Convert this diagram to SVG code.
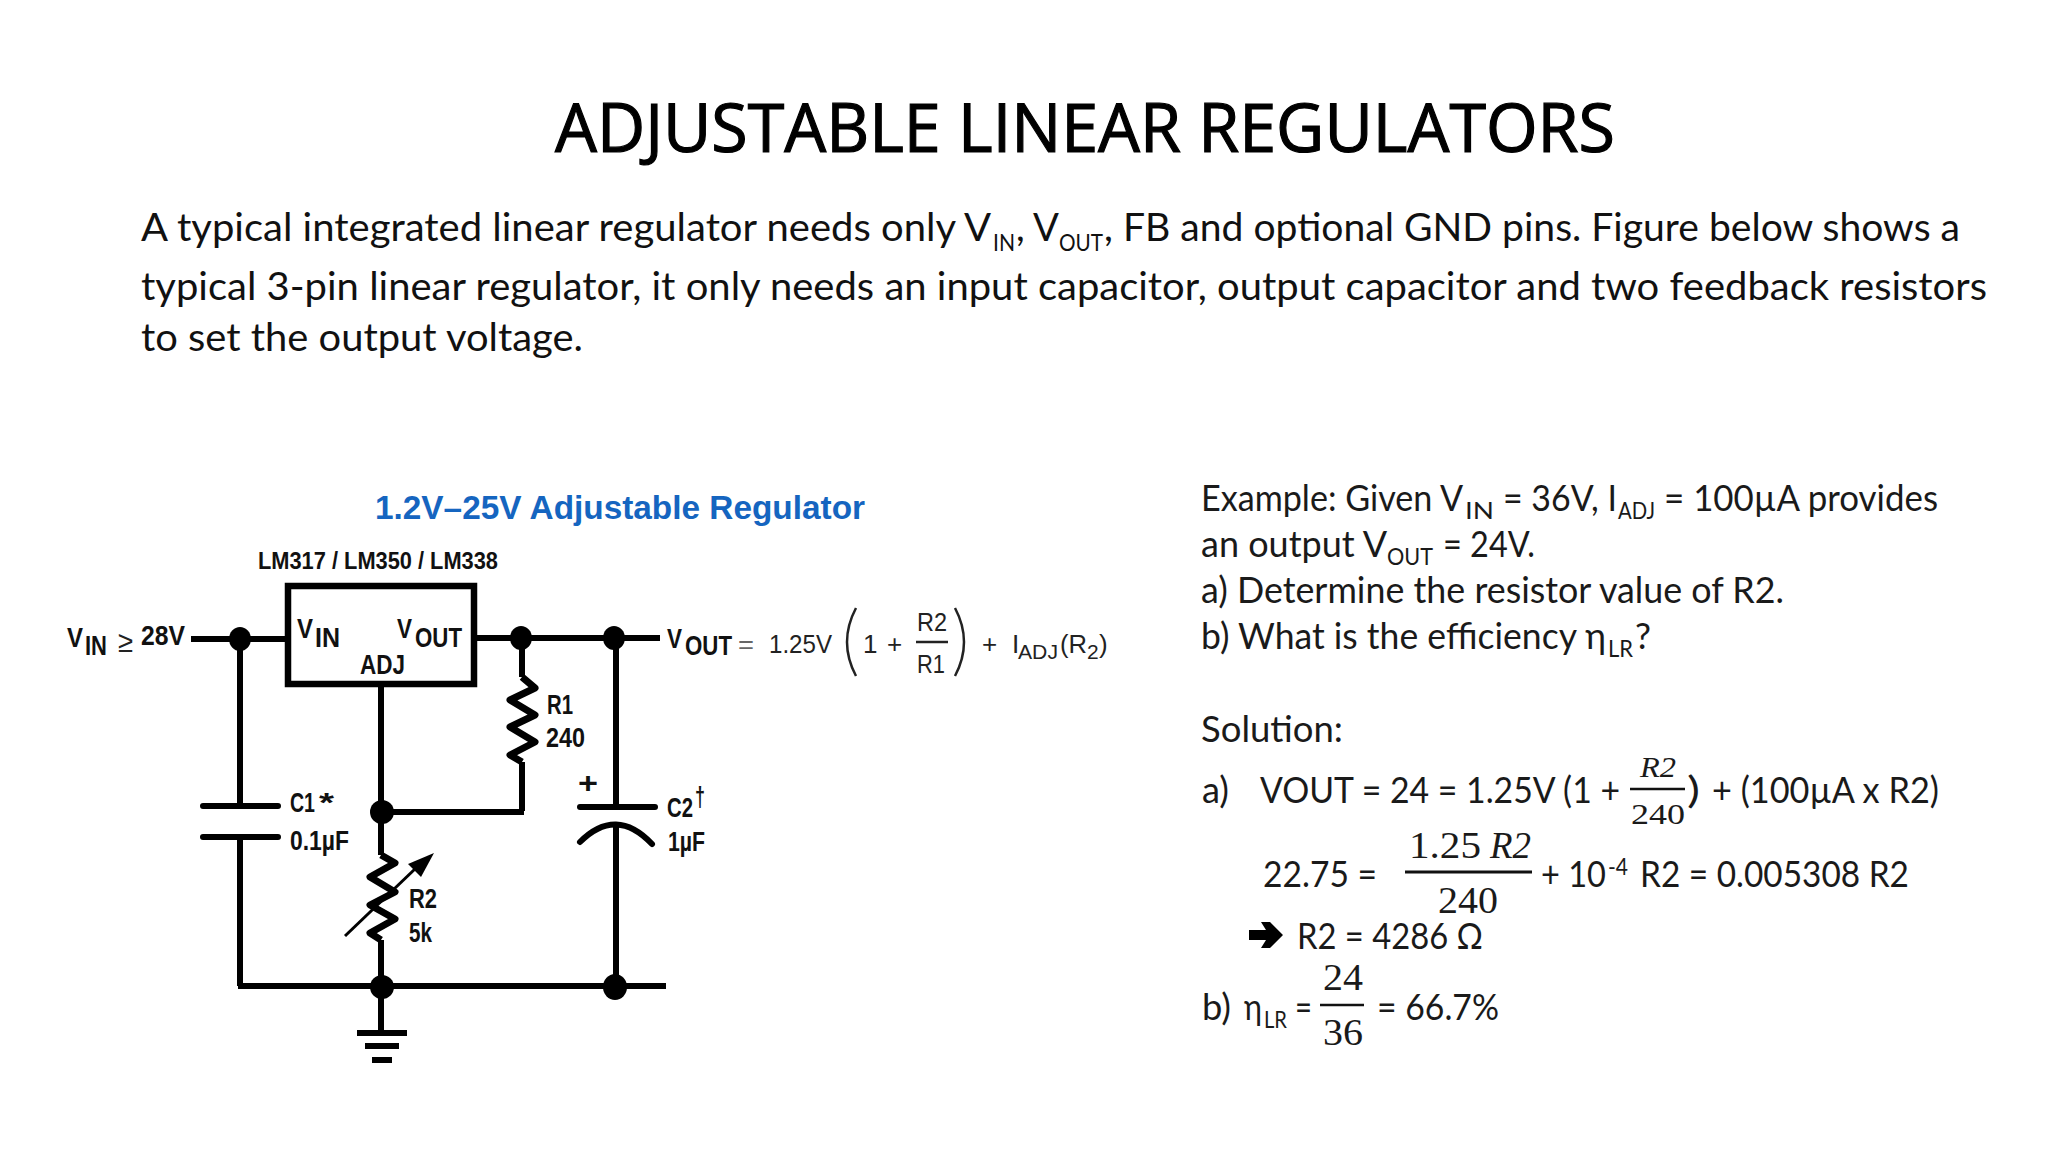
<svg xmlns="http://www.w3.org/2000/svg" width="2048" height="1152" viewBox="0 0 2048 1152">
<style>
text{font-family:"Lato","Liberation Sans",sans-serif;fill:#1a1a1a}
.t{font-size:38px;fill:#111}
.s{font-size:24px;fill:#111}
.e{font-size:36px;fill:#1a1a1a}
.es{font-size:23px;fill:#1a1a1a}
.m{font-family:"Liberation Serif",serif;font-size:38px}
.mi{font-family:"Liberation Serif",serif;font-style:italic;font-size:38px}
.c{font-family:"Liberation Sans",sans-serif;font-weight:bold;fill:#111}
.f{font-family:"Liberation Sans",sans-serif;fill:#222}
.w{fill:none;stroke:#000;stroke-width:6;stroke-linejoin:round}
.z{fill:none;stroke:#000;stroke-width:7;stroke-linejoin:round}
.p{fill:none;stroke:#000;stroke-width:6;stroke-linecap:round}
.th{fill:none;stroke:#111;stroke-width:2.5}
</style>
<text id="title" x="555" y="152" font-size="68" textLength="1060" lengthAdjust="spacingAndGlyphs" stroke="#000" stroke-width="1.2" style="font-family:'Open Sans',sans-serif;fill:#000">ADJUSTABLE LINEAR REGULATORS</text>
<g id="intro">
<text class="t" y="241"><tspan x="141" textLength="850" lengthAdjust="spacingAndGlyphs">A typical integrated linear regulator needs only V</tspan><tspan class="s" x="993" y="251" textLength="22" lengthAdjust="spacingAndGlyphs">IN</tspan><tspan x="1016" y="241" textLength="43" lengthAdjust="spacingAndGlyphs">, V</tspan><tspan class="s" x="1059" y="251" textLength="44" lengthAdjust="spacingAndGlyphs">OUT</tspan><tspan x="1104" y="241" textLength="856" lengthAdjust="spacingAndGlyphs">, FB and optional GND pins. Figure below shows a</tspan></text>
<text class="t" x="141" y="300" textLength="1846" lengthAdjust="spacingAndGlyphs">typical 3-pin linear regulator, it only needs an input capacitor, output capacitor and two feedback resistors</text>
<text class="t" x="141" y="351" textLength="442" lengthAdjust="spacingAndGlyphs">to set the output voltage.</text>
</g>
<g id="connectors">
<path class="w" d="M191 639H288M477 638H660M240 639V806M240 837V986M238 986H666M381 687V855M381 940V1033M522 638V677M522 762V811M381 812H524M616 638V806M616 824V986"/>
<path class="z" d="M522 677L535 688L510 700L535 715L510 727L535 742L510 755L522 762"/>
<path class="z" d="M381 855L395 863L370 877L395 892L370 905L395 919L370 933L381 940"/>
<path d="M345 936L416 868" fill="none" stroke="#000" stroke-width="3"/>
<path d="M434 853L421 877L408 864Z" fill="#000"/>
</g>
<g id="regulator">
<rect x="288" y="586" width="186" height="98" fill="none" stroke="#000" stroke-width="6.5"/>
<text class="c" font-size="27"><tspan x="297" y="638" textLength="16" lengthAdjust="spacingAndGlyphs">V</tspan><tspan x="315" y="647" textLength="25" lengthAdjust="spacingAndGlyphs">IN</tspan></text>
<text class="c" font-size="27"><tspan x="397" y="638" textLength="15" lengthAdjust="spacingAndGlyphs">V</tspan><tspan x="415" y="647" textLength="47" lengthAdjust="spacingAndGlyphs">OUT</tspan></text>
<text class="c" x="360" y="674" font-size="27" textLength="45" lengthAdjust="spacingAndGlyphs">ADJ</text>
</g>
<g id="junctions" fill="#000">
<ellipse cx="240" cy="639" rx="11" ry="12"/><ellipse cx="521" cy="638" rx="11" ry="12"/><ellipse cx="614" cy="638" rx="11" ry="12"/>
<ellipse cx="382" cy="812" rx="12" ry="12"/><ellipse cx="382" cy="987" rx="12" ry="12"/><ellipse cx="615" cy="987" rx="12" ry="13"/>
</g>
<g id="c1">
<path class="p" d="M203 806H278M203 837H278"/>
<text class="c" font-size="27" y="812"><tspan x="290" textLength="25" lengthAdjust="spacingAndGlyphs">C1</tspan><tspan x="319" textLength="15" lengthAdjust="spacingAndGlyphs">*</tspan></text>
<text class="c" x="290" y="850" font-size="27" textLength="59" lengthAdjust="spacingAndGlyphs">0.1µF</text>
</g>
<g id="c2">
<path class="p" d="M580 807H655"/>
<path class="p" d="M580 842Q616 806 652 844"/>
<text class="c" x="578" y="793" font-size="30" textLength="20" lengthAdjust="spacingAndGlyphs">+</text>
<text class="c" font-size="27" y="817"><tspan x="667" textLength="26" lengthAdjust="spacingAndGlyphs">C2</tspan><tspan x="695" y="806" textLength="10" lengthAdjust="spacingAndGlyphs">†</tspan></text>
<text class="c" x="668" y="851" font-size="27" textLength="37" lengthAdjust="spacingAndGlyphs">1µF</text>
</g>
<g id="r1">
<text class="c" x="547" y="714" font-size="27" textLength="26" lengthAdjust="spacingAndGlyphs">R1</text>
<text class="c" x="546" y="747" font-size="27" textLength="39" lengthAdjust="spacingAndGlyphs">240</text>
</g>
<g id="r2">
<text class="c" x="409" y="908" font-size="27" textLength="28" lengthAdjust="spacingAndGlyphs">R2</text>
<text class="c" x="409" y="942" font-size="27" textLength="23" lengthAdjust="spacingAndGlyphs">5k</text>
</g>
<g id="ground">
<path d="M357 1033H407M365 1046H399M372 1060H392" fill="none" stroke="#000" stroke-width="6"/>
</g>
<g id="schematic-labels">
<text x="375" y="519" font-size="33" textLength="490" lengthAdjust="spacingAndGlyphs" style="font-family:'Liberation Sans',sans-serif;font-weight:bold;fill:#1565c0">1.2V–25V Adjustable Regulator</text>
<text class="c" x="258" y="569" font-size="24" textLength="240" lengthAdjust="spacingAndGlyphs">LM317 / LM350 / LM338</text>
<text class="c" font-size="27"><tspan x="67" y="647" textLength="16" lengthAdjust="spacingAndGlyphs">V</tspan><tspan x="85" y="655" textLength="22" lengthAdjust="spacingAndGlyphs">IN</tspan><tspan class="f" style="font-weight:normal" x="118" y="652" font-size="30" textLength="15" lengthAdjust="spacingAndGlyphs">≥</tspan><tspan x="141" y="645" textLength="44" lengthAdjust="spacingAndGlyphs">28V</tspan></text>
</g>
<g id="formula">
<text class="c" font-size="27"><tspan x="667" y="648" textLength="15" lengthAdjust="spacingAndGlyphs">V</tspan><tspan x="685" y="655" textLength="47" lengthAdjust="spacingAndGlyphs">OUT</tspan></text>
<text class="f" font-size="26" y="653"><tspan x="738" textLength="16" lengthAdjust="spacingAndGlyphs" fill-opacity=".7">=</tspan><tspan x="769" textLength="63" lengthAdjust="spacingAndGlyphs">1.25V</tspan></text>
<path d="M856 608Q838 642 856 676M955 608Q973 642 955 676" fill="none" stroke="#222" stroke-width="2.5"/>
<text class="f" x="863" y="653" font-size="26">1</text>
<text class="f" x="887" y="653" font-size="26">+</text>
<text class="f" x="917" y="631" font-size="26" textLength="30" lengthAdjust="spacingAndGlyphs">R2</text>
<path d="M916 642H948" stroke="#222" stroke-width="2.5"/>
<text class="f" x="917" y="673" font-size="26" textLength="28" lengthAdjust="spacingAndGlyphs">R1</text>
<text class="f" x="982" y="653" font-size="26">+</text>
<text class="f" font-size="26"><tspan x="1012" y="653">I</tspan><tspan x="1018" y="659" font-size="21" textLength="40" lengthAdjust="spacingAndGlyphs">ADJ</tspan><tspan x="1060" y="653" textLength="27" lengthAdjust="spacingAndGlyphs">(R</tspan><tspan x="1087" y="659" font-size="21">2</tspan><tspan x="1099" y="653">)</tspan></text>
</g>
<g id="example">
<text class="e" y="511"><tspan x="1201" textLength="262" lengthAdjust="spacingAndGlyphs">Example: Given V</tspan><tspan class="es" x="1465" y="519" textLength="29" lengthAdjust="spacingAndGlyphs">IN</tspan><tspan x="1503" y="511" textLength="114" lengthAdjust="spacingAndGlyphs">= 36V, I</tspan><tspan class="es" x="1618" y="519" textLength="37" lengthAdjust="spacingAndGlyphs">ADJ</tspan><tspan x="1664" y="511" textLength="274" lengthAdjust="spacingAndGlyphs">= 100µA provides</tspan></text>
<text class="e" y="557"><tspan x="1201" textLength="186" lengthAdjust="spacingAndGlyphs">an output V</tspan><tspan class="es" x="1387" y="565" textLength="46" lengthAdjust="spacingAndGlyphs">OUT</tspan><tspan x="1443" y="557" textLength="92" lengthAdjust="spacingAndGlyphs">= 24V.</tspan></text>
<text class="e" x="1201" y="603" textLength="583" lengthAdjust="spacingAndGlyphs">a) Determine the resistor value of R2.</text>
<text class="e" y="649"><tspan x="1201" textLength="405" lengthAdjust="spacingAndGlyphs">b) What is the efficiency η</tspan><tspan class="es" x="1608" y="657" textLength="25" lengthAdjust="spacingAndGlyphs">LR</tspan><tspan x="1635" y="649" textLength="16" lengthAdjust="spacingAndGlyphs">?</tspan></text>
</g>
<g id="solution">
<text class="e" x="1201" y="742" textLength="142" lengthAdjust="spacingAndGlyphs">Solution:</text>
<text class="e" x="1202" y="803" textLength="27" lengthAdjust="spacingAndGlyphs">a)</text>
<text class="e" x="1260" y="803" textLength="360" lengthAdjust="spacingAndGlyphs">VOUT = 24 = 1.25V (1 +</text>
<text class="mi" x="1640" y="777" textLength="36" lengthAdjust="spacingAndGlyphs" style="font-size:30px">R2</text>
<path class="th" d="M1630 789H1685"/>
<text class="m" x="1631" y="824" textLength="54" lengthAdjust="spacingAndGlyphs" style="font-size:30px">240</text>
<text class="e" x="1687" y="803" textLength="13" lengthAdjust="spacingAndGlyphs">)</text>
<text class="e" x="1712" y="803" textLength="227" lengthAdjust="spacingAndGlyphs">+ (100µA x R2)</text>
<text class="e" x="1263" y="887" textLength="114" lengthAdjust="spacingAndGlyphs">22.75 =</text>
<text class="m" y="858"><tspan x="1409" textLength="72" lengthAdjust="spacingAndGlyphs">1.25</tspan><tspan class="mi" x="1490" textLength="41" lengthAdjust="spacingAndGlyphs">R2</tspan></text>
<path class="th" d="M1405 872H1532" style="stroke-width:3"/>
<text class="m" x="1438" y="913" textLength="60" lengthAdjust="spacingAndGlyphs">240</text>
<text class="e" y="887"><tspan x="1541" textLength="65" lengthAdjust="spacingAndGlyphs">+ 10</tspan><tspan class="es" x="1608" y="875" textLength="20" lengthAdjust="spacingAndGlyphs">-4</tspan><tspan x="1640" y="887" textLength="269" lengthAdjust="spacingAndGlyphs">R2 = 0.005308 R2</tspan></text>
<path d="M1249 930H1266L1261 922H1270L1283 935L1270 948H1261L1266 940H1249Z" fill="#000"/>
<text class="e" x="1297" y="949" textLength="186" lengthAdjust="spacingAndGlyphs">R2 = 4286 Ω</text>
<text class="e" y="1020"><tspan x="1202" textLength="29" lengthAdjust="spacingAndGlyphs">b)</tspan><tspan x="1244" textLength="18" lengthAdjust="spacingAndGlyphs">η</tspan><tspan class="es" x="1264" y="1028" textLength="23" lengthAdjust="spacingAndGlyphs">LR</tspan><tspan x="1295" y="1020" textLength="17" lengthAdjust="spacingAndGlyphs">=</tspan></text>
<text class="m" x="1323" y="990" textLength="40" lengthAdjust="spacingAndGlyphs">24</text>
<path class="th" d="M1320 1005H1364"/>
<text class="m" x="1323" y="1045" textLength="40" lengthAdjust="spacingAndGlyphs">36</text>
<text class="e" x="1377" y="1020" textLength="122" lengthAdjust="spacingAndGlyphs">= 66.7%</text>
</g>
</svg>
